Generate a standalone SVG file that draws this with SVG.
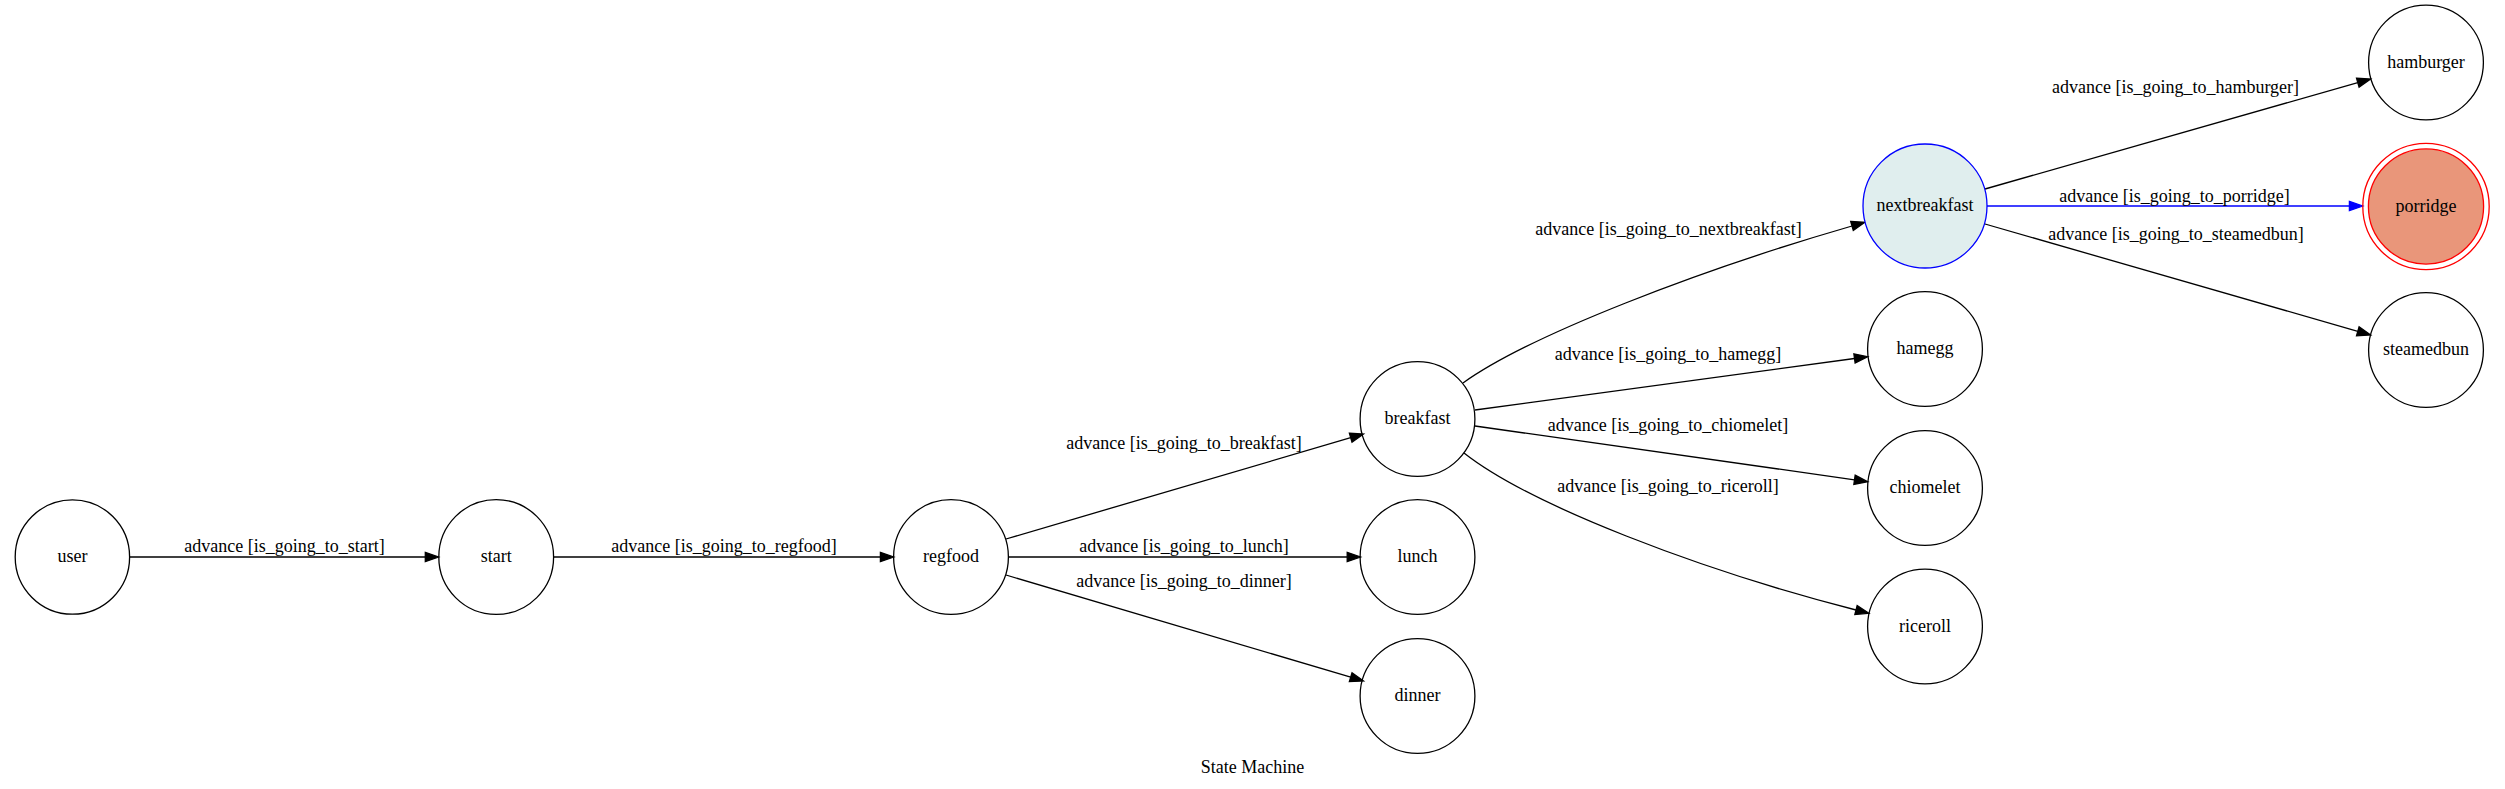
<svg xmlns="http://www.w3.org/2000/svg" width="2505" height="789" viewBox="0 0 2505 789">
<style>
  .bg { fill: #ffffff; }
  .node { fill: none; stroke: #000000; stroke-width: 1.3; }
  .lbl { font-family: "Liberation Serif", "Times New Roman", serif; font-size: 18px; fill: #000000; text-anchor: middle; }
  .edge { fill: none; stroke: #000000; stroke-width: 1.3; }
  .edge-blue { fill: none; stroke: #0000ff; stroke-width: 1.3; }
</style>
<defs>
  <marker id="arrow" markerUnits="userSpaceOnUse" markerWidth="14" markerHeight="10" refX="0" refY="5" orient="auto" overflow="visible">
    <path d="M0,0.33 L13.3,5 L0,9.67 Z" fill="#000000" stroke="#000000" stroke-width="1.3"/>
  </marker>
  <marker id="arrow-blue" markerUnits="userSpaceOnUse" markerWidth="14" markerHeight="10" refX="0" refY="5" orient="auto" overflow="visible">
    <path d="M0,0.33 L13.3,5 L0,9.67 Z" fill="#0000ff" stroke="#0000ff" stroke-width="1.3"/>
  </marker>
</defs>
<rect class="bg" x="0" y="0" width="2505" height="789"/>

<g id="connectors">
  <g id="e-user-start">
    <path class="edge" d="M129.5,557 L425.3,557" marker-end="url(#arrow)"/>
    <text class="lbl" x="284.5" y="551.5">advance [is_going_to_start]</text>
  </g>
  <g id="e-start-regfood">
    <path class="edge" d="M553.6,557 L880.4,557" marker-end="url(#arrow)"/>
    <text class="lbl" x="724" y="551.5">advance [is_going_to_regfood]</text>
  </g>
  <g id="e-regfood-breakfast">
    <path class="edge" d="M1006,539 L1350.7,437.7" marker-end="url(#arrow)"/>
    <text class="lbl" x="1184" y="449">advance [is_going_to_breakfast]</text>
  </g>
  <g id="e-regfood-lunch">
    <path class="edge" d="M1008,557 L1347.2,557" marker-end="url(#arrow)"/>
    <text class="lbl" x="1184" y="551.5">advance [is_going_to_lunch]</text>
  </g>
  <g id="e-regfood-dinner">
    <path class="edge" d="M1006,575 L1350.7,677.2" marker-end="url(#arrow)"/>
    <text class="lbl" x="1184" y="587">advance [is_going_to_dinner]</text>
  </g>
  <g id="e-breakfast-nextbreakfast">
    <path class="edge" d="M1463,383 C1530,335 1700,270 1852,226" marker-end="url(#arrow)"/>
    <text class="lbl" x="1668.5" y="235">advance [is_going_to_nextbreakfast]</text>
  </g>
  <g id="e-breakfast-hamegg">
    <path class="edge" d="M1475,410 L1854.5,358.5" marker-end="url(#arrow)"/>
    <text class="lbl" x="1668" y="360">advance [is_going_to_hamegg]</text>
  </g>
  <g id="e-breakfast-chiomelet">
    <path class="edge" d="M1475,426 L1854.5,479.8" marker-end="url(#arrow)"/>
    <text class="lbl" x="1668" y="430.5">advance [is_going_to_chiomelet]</text>
  </g>
  <g id="e-breakfast-riceroll">
    <path class="edge" d="M1464,453 C1530,505 1700,570 1856,610" marker-end="url(#arrow)"/>
    <text class="lbl" x="1668" y="491.5">advance [is_going_to_riceroll]</text>
  </g>
  <g id="e-nextbreakfast-hamburger">
    <path class="edge" d="M1985,189 L2357.8,82.6" marker-end="url(#arrow)"/>
    <text class="lbl" x="2175.5" y="93.3">advance [is_going_to_hamburger]</text>
  </g>
  <g id="e-nextbreakfast-porridge">
    <path class="edge-blue" d="M1987,206 L2349.4,206" marker-end="url(#arrow-blue)"/>
    <text class="lbl" x="2174.5" y="201.5">advance [is_going_to_porridge]</text>
  </g>
  <g id="e-nextbreakfast-steamedbun">
    <path class="edge" d="M1985,224 L2357.8,331.3" marker-end="url(#arrow)"/>
    <text class="lbl" x="2176" y="240">advance [is_going_to_steamedbun]</text>
  </g>
</g>

<g id="node-user">
  <circle class="node" cx="72.4" cy="557" r="57.2"/>
  <text class="lbl" x="72.4" y="562.3">user</text>
</g>
<g id="node-start">
  <circle class="node" cx="496.2" cy="557" r="57.4"/>
  <text class="lbl" x="496.2" y="562.3">start</text>
</g>
<g id="node-regfood">
  <circle class="node" cx="951" cy="557" r="57.4"/>
  <text class="lbl" x="951" y="562.3">regfood</text>
</g>
<g id="node-breakfast">
  <circle class="node" cx="1417.5" cy="419" r="57.4"/>
  <text class="lbl" x="1417.5" y="424.3">breakfast</text>
</g>
<g id="node-lunch">
  <circle class="node" cx="1417.5" cy="557" r="57.4"/>
  <text class="lbl" x="1417.5" y="562.3">lunch</text>
</g>
<g id="node-dinner">
  <circle class="node" cx="1417.5" cy="696" r="57.4"/>
  <text class="lbl" x="1417.5" y="701.3">dinner</text>
</g>
<g id="node-nextbreakfast">
  <circle cx="1925" cy="206" r="62" fill="#e0eeee" stroke="#0000ff" stroke-width="1.3"/>
  <text class="lbl" x="1925" y="211.3">nextbreakfast</text>
</g>
<g id="node-hamegg">
  <circle class="node" cx="1925" cy="349" r="57.4"/>
  <text class="lbl" x="1925" y="354.3">hamegg</text>
</g>
<g id="node-chiomelet">
  <circle class="node" cx="1925" cy="488" r="57.4"/>
  <text class="lbl" x="1925" y="493.3">chiomelet</text>
</g>
<g id="node-riceroll">
  <circle class="node" cx="1925" cy="626.5" r="57.4"/>
  <text class="lbl" x="1925" y="631.8">riceroll</text>
</g>
<g id="node-hamburger">
  <circle class="node" cx="2426" cy="62.5" r="57.4"/>
  <text class="lbl" x="2426" y="67.8">hamburger</text>
</g>
<g id="node-porridge">
  <circle cx="2426" cy="206.5" r="63.2" fill="none" stroke="#ff0000" stroke-width="1.3"/>
  <circle cx="2426" cy="206.5" r="57.6" fill="#e9967a" stroke="#ff0000" stroke-width="1.3"/>
  <text class="lbl" x="2426" y="211.8">porridge</text>
</g>
<g id="node-steamedbun">
  <circle class="node" cx="2426" cy="350" r="57.4"/>
  <text class="lbl" x="2426" y="355.3">steamedbun</text>
</g>

<text class="lbl" x="1252.5" y="773">State Machine</text>
</svg>
